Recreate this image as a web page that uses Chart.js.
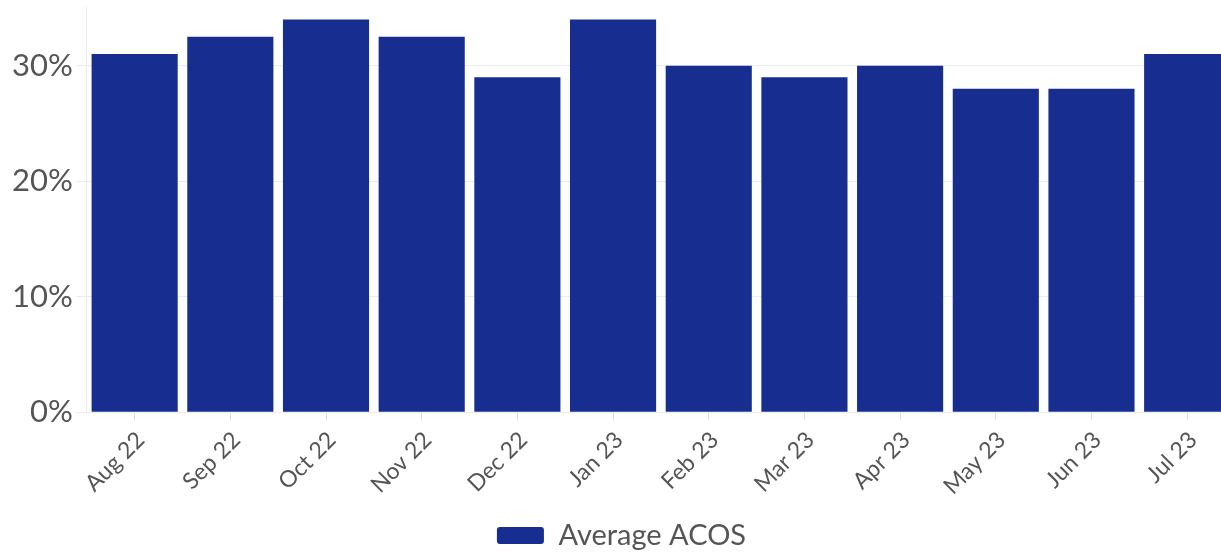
<!DOCTYPE html>
<html>
<head>
<meta charset="utf-8">
<title>Average ACOS</title>
<script src="https://cdn.jsdelivr.net/npm/chart.js"></script>
<style>
  html, body { margin: 0; padding: 0; background: #fff; overflow: hidden; }
  .chart-wrap { position: absolute; left: 0; top: 0; width: 1235px; height: 557px; }
</style>
</head>
<body>
<div class="chart-wrap">
  <canvas id="acosChart"></canvas>
</div>
<script>
// Monthly average ACOS, in percent
const months = ["Aug 22", "Sep 22", "Oct 22", "Nov 22", "Dec 22", "Jan 23",
                "Feb 23", "Mar 23", "Apr 23", "May 23", "Jun 23", "Jul 23"];
const acosValues = [31, 32.5, 34, 32.5, 29, 34, 30, 29, 30, 28, 28, 31];
const yTicks = [0, 10, 20, 30];

const barColor = "#172d8f";
const textColor = "#555555";
const gridColor = "#ececec";
const fontFamily = "Lato, 'Liberation Sans', sans-serif";

const ctx = document.getElementById("acosChart").getContext("2d");
new Chart(ctx, {
  type: "bar",
  data: {
    labels: months,
    datasets: [{
      label: "Average ACOS",
      data: acosValues,
      backgroundColor: barColor,
      borderWidth: 0,
      barPercentage: 0.9,
      categoryPercentage: 1.0,
    }],
  },
  options: {
    responsive: true,
    maintainAspectRatio: false,
    animation: false,
    layout: { padding: { left: 8, top: 0, right: 0, bottom: -3 } },
    scales: {
      x: {
        grid: { display: true, offset: false, drawOnChartArea: false, drawTicks: true, tickLength: 8, color: "#dddddd" },
        border: { display: false },
        ticks: {
          color: textColor,
          font: { family: fontFamily, size: 23 },
          maxRotation: 45,
          minRotation: 45,
          padding: 6,
          labelOffset: 6,
        },
        // leave a gap between the rotated month labels and the legend
        afterFit: (scale) => { scale.height += 11; },
      },
      y: {
        min: 0,
        max: 35,
        grid: { color: gridColor, tickLength: 10 },
        border: { display: true, color: gridColor },
        afterBuildTicks: (axis) => {
          axis.ticks = yTicks.map((v) => ({ value: v }));
        },
        ticks: {
          color: textColor,
          font: { family: fontFamily, size: 31, lineHeight: 0.25 },
          padding: 4,
          callback: (v) => v + "%",
        },
      },
    },
    plugins: {
      legend: {
        display: true,
        position: "bottom",
        labels: {
          color: textColor,
          font: { family: fontFamily, size: 29 },
          boxWidth: 47,
          boxHeight: 17,
          useBorderRadius: true,
          borderRadius: 3,
          padding: 4,
        },
      },
      tooltip: { enabled: false },
    },
  },
});
</script>
</body>
</html>
